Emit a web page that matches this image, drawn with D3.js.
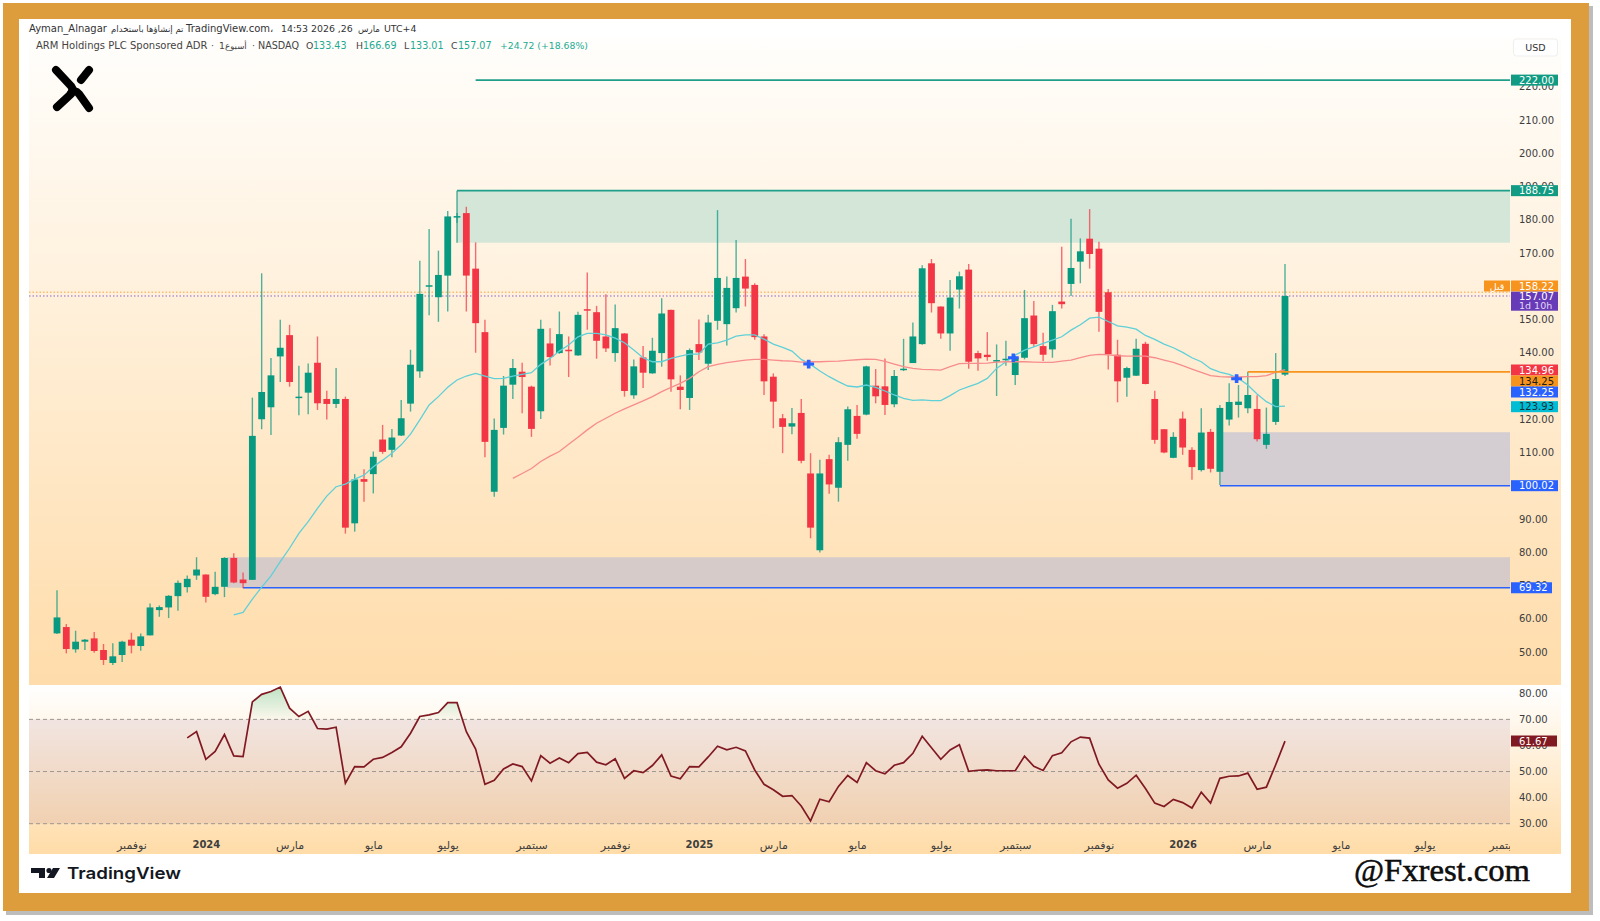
<!DOCTYPE html>
<html>
<head>
<meta charset="utf-8">
<script src="https://cdnjs.cloudflare.com/ajax/libs/d3/7.8.5/d3.min.js"></script>
<style>
  body { margin: 0; background: #fff; }
  text { font-family: "DejaVu Sans", sans-serif; }
</style>
</head>
<body>
<svg id="chart" width="1600" height="921"></svg>
<script>
// weekly candles
var opens = [55.6,57.5,50.8,53.1,54.1,50.6,46.7,49.1,53.7,51.8,55,62.6,63.4,66.8,69.5,73,73.3,67.4,69.6,78.3,71.8,71.7,120,123.6,138.9,145.3,126.5,128,137,126.1,124.6,126.1,88.7,102,103.5,113.9,110.8,115.1,124.7,134.4,160,156.7,163.2,180.8,182,165.3,146.2,98.2,117.4,130.4,134.3,129.8,122.4,142.8,139.9,140.9,139.2,153.1,152.2,144.9,139.9,145.8,127.2,138.6,133.8,139.9,152.9,129.8,126.4,142.6,136.7,149.6,148.6,153.4,162.9,160.4,144.9,132.8,120.3,117.8,121.9,103.7,80.6,108,99.4,112.3,121,121.4,130.1,129.9,124.5,134.8,136.9,142.6,166.9,153.9,145.8,159,165,139.9,139.4,137.5,138,133.3,138.5,151.2,142,141,155.4,160.7,167.4,174.3,171.3,158.2,139.4,132.5,133.1,142.7,126.1,117,108.4,120.2,110.8,104.7,116.2,104.2,119.9,124.3,123.3,123.1,112.3,119.2,133.43];
var highs = [68.6,58.4,56.4,53.9,56,52.4,52.6,53.4,55.8,55.6,64.6,64,67.1,71.5,73,78.5,73.3,74.1,78.5,79.7,73.9,126.5,163.9,138.4,149.9,148.4,136.1,136.8,144.9,128.6,135.4,126.8,103.5,105,110.3,118.3,117.1,125.8,140.9,167.7,177.2,170.7,182.6,182,183.9,173.2,149.9,120.2,133,138.1,137,130.1,149.9,147.4,152.4,144.9,152.3,164.1,154.1,157.6,154.5,145.9,138,142,144.5,156.4,152.9,133.2,141.3,150,151.4,182.9,162.9,173.9,168.2,160.9,145.6,133.8,121.6,123.4,126.1,109.8,107.8,109.3,114.6,123.8,124.3,136.1,135.1,138.3,134.8,144.2,149.1,166.3,168.2,153.9,161.9,164.4,166.7,140.6,146.2,142.5,143.6,139.4,158.9,155.6,146,154.4,171.9,180.3,174.4,183.2,173.4,159.2,143.9,135.8,144.2,143.3,128.6,117,116.1,122.3,111.6,123.3,117.1,124.3,130.8,130.3,134.3,127.2,123.5,139.9,166.69];
var lows = [55.4,49.6,49.8,50.6,49.8,46.1,46.1,47,49.6,50.4,55,60.6,60.2,62.4,67.9,71.7,64.9,67.1,66.5,70.7,69.2,71.7,117,115.3,131.2,129.8,121.2,121.5,122.8,119.9,123.4,85.6,86.2,95.2,97.7,109.6,108.6,115,122.3,132.5,151.3,149.3,152.4,179,152.4,140,108.6,96.7,115.4,126.1,121.8,114.7,120.1,136.2,139.7,132.7,139.1,146.9,138.2,140.2,137.3,126.8,126.2,129.4,133.7,135.8,128.3,123,122.8,137.8,134.8,146.9,142.2,152.1,153.9,143.9,127.3,117.3,109.8,115.5,106.8,84.2,79.9,97.6,95.2,107.5,114.1,121.2,124.8,121.3,123.6,134.5,136.9,142.4,152.1,144.2,140.6,153.3,135.2,134.6,137.6,127,136.1,130.3,138,141.8,137.5,138.5,153.3,157.1,160.9,165.3,146.3,135,125.1,126.8,133,130.5,112.6,109.8,108.3,109.3,101.8,104.3,104,100.2,118.1,120.5,121.8,113.3,111.1,118.3,133.01];
var closes = [60.4,50.9,53.1,53.7,50.3,47.6,48.7,53.1,51.9,54.7,63.4,63.5,66.9,70.8,72,74.8,66.6,69.6,78.3,70.9,70.7,115,128.2,133.2,141.5,131.2,126.8,134,124.8,124.6,126.1,87.4,101.9,101.2,108.7,110.2,114.5,120.3,136.4,157.7,160.3,163.4,181,181.1,163.2,148.9,113.2,116.8,130.1,135.4,132.7,117.1,147.2,138.7,145.6,140.5,151.4,152.8,143.6,141.3,147.4,128.5,135.9,134,140.6,151.8,132,128.8,140.8,140.1,149.1,162.5,159.5,162.5,159.3,144.7,131.4,125.3,117.7,118.8,107.5,87.4,103.7,100.4,113.1,123,115.6,135.9,126.9,124.3,133,135.2,144.9,165.4,154.9,145.8,156.6,163,137.3,138.3,138.7,137.8,138.2,138.3,150.4,142.6,139.4,152.5,154.6,165.5,170.5,169.7,152.3,139.6,131.4,135.4,141.2,130.6,113.8,110,114.7,111.5,105.6,116,105.1,123.4,125.2,125.3,127.3,114,115.6,132.1,157.07];

// moving averages, cyan starts at bar 19, red at bar 49
var cyanStart = 19;
var cyanMa = [61.2,61.9,65.9,69.5,72.9,77.2,81.2,85.7,89.2,93.2,96.9,99.7,100.5,102,103.2,105.7,107.7,109.8,112.3,115.5,119.8,124.3,126.8,129.6,131.8,133,133.8,133,132.2,132.3,133,133.5,134,136.5,138.3,140.5,142.3,144.8,145.8,145.8,145.4,144.4,143,140.8,138.5,137.3,137.3,138.3,139,139.6,139.6,142.6,143,143.8,145,145.4,145.4,144.1,142.6,141.6,140.5,138,136.5,134.5,132.8,131.3,130,129.7,130.3,129.6,128.5,127.3,126.3,125.7,125.8,125.6,125.6,127.1,128.8,129.8,130.8,132.3,135.3,137.3,139.3,140.8,141.8,142.8,143.8,144.8,146.8,148.4,150.4,150.7,149.4,148.1,147.7,147.1,145.2,144,142.6,141.5,140.1,138.5,137.3,135.2,134.2,133.5,132.3,130.3,127.6,125.3,123.8,123.93];
var redStart = 49;
var redMa = [102.2,103.7,105.2,107.3,108.9,110.3,112.5,114.6,116.8,118.8,120.3,121.8,123.1,124.3,125.5,126.8,128.3,129.6,130.8,132.3,134.3,135.8,136.5,137,137.4,137.8,138,138,137.8,137.6,137.5,137.2,137.3,137.3,137.4,137.5,137.7,137.9,138.1,138,137.4,136.6,135.8,135.3,135,134.9,134.8,135.8,136.7,136.8,136.8,136.9,137.2,137.3,137.3,137.3,137.2,137.1,137.1,137.5,137.8,138.5,139.2,139.5,139.4,139.1,139,139,139,138.5,137.8,137.1,136.1,135.1,134.1,133.1,132.8,132.7,132.7,132.8,132.8,133.1,134.1,134.96];

// RSI from bar 14
var rsiStart = 14;
var rsiValues = [62.9,65.3,54.7,57.7,64.2,56,55.7,76.7,79.6,80.7,82.4,74.3,71.1,73.1,66.5,66.3,67,45.5,51.9,51.8,54.7,55.4,57.3,59.5,64.7,71.1,71.7,72.6,76.4,76.4,65.3,58.6,45.1,46.6,51,52.9,51.9,46.4,56.1,53.2,55.2,53.4,56.9,57.3,53.6,52.6,54.9,47.4,50.3,49.6,52.3,56.4,48.3,47.2,51.9,51.8,55.6,59.7,58.3,59.3,57.9,50.6,45.1,43,40.5,40.8,36.8,31.1,39.4,38.4,44.3,48.5,45.8,53.4,50.3,49.1,52.4,53.4,57,63.5,59.1,54.7,58.3,60.3,50.1,50.5,50.6,50.3,50.3,50.3,55.9,52,50.4,56.1,57.2,61.4,63.2,62.8,52.8,46.8,43.6,45.5,48.6,43.5,37.9,36.6,39.3,38.1,36,42.1,37.9,47.4,48.2,48.3,49.4,43.2,44,52.6,61.67];

// axis ticks
var priceTicks = [50,60,70,80,90,100,110,120,130,140,150,160,170,180,190,200,210,220];
var rsiTicks = [30,40,50,60,70,80];
var timeTickBars = [8,16,25,34,42,51,60,69,77,86,95,103,112,121,129,138,147,155.6];
var timeTickLabels = ["نوفمبر","2024","مارس","مايو","يوليو","سبتمبر","نوفمبر","2025","مارس","مايو","يوليو","سبتمبر","نوفمبر","2026","مارس","مايو","يوليو","سبتمبر"];

// drawings: [bar, price]
var crossBars = [80.8,102.8,126.8];
var crossPrices = [136.6,138.5,132.2];

var paneLeft = 29, paneRight = 1561, plotRight = 1510;
var green = "#089981", red = "#f23645";

var svg = d3.select("#chart");
var defs = svg.append("defs");

var x = d3.scaleLinear().domain([0,132]).range([57,1285]);
var y = d3.scaleLinear().domain([50,220]).range([652,86.75]);
var yRsi = d3.scaleLinear().domain([30,80]).range([823.7,693.3]);

//Frame
svg.append("rect").attr("x",6).attr("y",6).attr("width",1587).attr("height",909).attr("fill","#bdbdbd");
svg.append("rect").attr("x",3).attr("y",3).attr("width",1586).attr("height",908).attr("fill","#de9d3c");
svg.append("rect").attr("x",19).attr("y",19).attr("width",1552).attr("height",874).attr("fill","#fff");

//Pane backgrounds
function addGradient(id, y1, y2, stops) {
  var g = defs.append("linearGradient").attr("id",id)
    .attr("gradientUnits","userSpaceOnUse")
    .attr("x1",0).attr("x2",0).attr("y1",y1).attr("y2",y2);
  stops.forEach(function(s) {
    g.append("stop").attr("offset",s[0]).attr("stop-color",s[1]).attr("stop-opacity",s[2]);
  });
}
addGradient("mainBg",37,685,[[0,"#fffefc",1],[1,"#ffdcaa",1]]);
addGradient("rsiBg",685,854,[[0,"#ffffff",1],[1,"#ffdca8",1]]);
addGradient("rsiFill",yRsi(82.4),yRsi(70),[[0,"#6cbf7c",0.45],[1,"#6cbf7c",0.02]]);

svg.append("rect").attr("x",paneLeft).attr("y",37).attr("width",paneRight-paneLeft).attr("height",648).attr("fill","url(#mainBg)");
svg.append("rect").attr("x",paneLeft).attr("y",685).attr("width",paneRight-paneLeft).attr("height",169).attr("fill","url(#rsiBg)");

//Zones
function zone(bar, top, bottom, color) {
  svg.append("rect")
    .attr("x",x(bar)).attr("width",plotRight-x(bar))
    .attr("y",y(top)).attr("height",y(bottom)-y(top))
    .attr("fill",color);
}
zone(43,188.75,173.1,"#d3e6d8");
zone(18.3,78.5,69.32,"#d6cbc9");
zone(125,116.1,100.02,"#d4ced2");

//Level lines
function level(bar, price, color, width) {
  svg.append("line")
    .attr("x1",x(bar)).attr("x2",plotRight)
    .attr("y1",y(price)).attr("y2",y(price))
    .attr("stroke",color).attr("stroke-width",width);
}
svg.append("line").attr("x1",x(43)).attr("x2",x(43)).attr("y1",y(188.75)).attr("y2",y(173.1))
  .attr("stroke","#3aa58f").attr("stroke-width",1.3);
level(20,69.32,"#2962ff",1.6);
level(125,100.02,"#2962ff",1.6);
svg.append("line").attr("x1",paneLeft).attr("x2",plotRight).attr("y1",y(158.22)).attr("y2",y(158.22))
  .attr("stroke","#f7a23b").attr("stroke-width",1).attr("stroke-dasharray","1.5 2");
svg.append("line").attr("x1",paneLeft).attr("x2",plotRight).attr("y1",y(157.07)).attr("y2",y(157.07))
  .attr("stroke","#8e63c9").attr("stroke-width",1).attr("stroke-dasharray","1.5 2");

//Candles
var bars = d3.range(opens.length);
var candle = svg.append("g").selectAll("g").data(bars).enter().append("g");
candle.append("line")
  .attr("x1",function(i){ return x(i); }).attr("x2",function(i){ return x(i); })
  .attr("y1",function(i){ return y(highs[i]); }).attr("y2",function(i){ return y(lows[i]); })
  .attr("stroke",function(i){ return closes[i] >= opens[i] ? green : red; })
  .attr("stroke-opacity",0.72).attr("stroke-width",1.4);
candle.append("rect")
  .attr("x",function(i){ return x(i)-3.4; }).attr("width",6.8)
  .attr("y",function(i){ return y(Math.max(opens[i],closes[i])); })
  .attr("height",function(i){ return Math.max(1.5, Math.abs(y(opens[i])-y(closes[i]))); })
  .attr("fill",function(i){ return closes[i] >= opens[i] ? green : red; });

//Moving averages
var cyanLine = d3.line().x(function(d,i){ return x(i+cyanStart); }).y(function(d){ return y(d); });
var redLine = d3.line().x(function(d,i){ return x(i+redStart); }).y(function(d){ return y(d); });
svg.append("path").attr("d",cyanLine(cyanMa)).attr("fill","none").attr("stroke","#5fd0d8").attr("stroke-width",1.3);
svg.append("path").attr("d",redLine(redMa)).attr("fill","none").attr("stroke","#f78c8c").attr("stroke-width",1.3);

//Lines on top of the candles
level(45,222,"#1f9e8a",1.8);
level(43,188.75,"#1f9e8a",1.8);
level(128,134.25,"#f7941d",1.6);

//Crossing marks
svg.append("g").selectAll("path").data(crossBars).enter().append("path")
  .attr("d",d3.symbol().type(d3.symbolCross).size(42))
  .attr("transform",function(d,i){ return "translate("+x(d)+","+y(crossPrices[i])+") scale(1.25,1)"; })
  .attr("fill","#2962ff");

//RSI pane
svg.append("rect").attr("x",paneLeft).attr("y",yRsi(70)).attr("width",plotRight-paneLeft).attr("height",yRsi(30)-yRsi(70))
  .attr("fill","rgb(120,60,120)").attr("fill-opacity",0.1);
[70,50,30].forEach(function(v) {
  svg.append("line").attr("x1",paneLeft).attr("x2",plotRight).attr("y1",yRsi(v)).attr("y2",yRsi(v))
    .attr("stroke","#9c9791").attr("stroke-width",1).attr("stroke-dasharray","4 3");
});
defs.append("clipPath").attr("id","above70").append("rect")
  .attr("x",paneLeft).attr("y",685).attr("width",plotRight-paneLeft).attr("height",yRsi(70)-685);
var rsiArea = d3.area().x(function(d,i){ return x(i+rsiStart); }).y0(yRsi(70)).y1(function(d){ return yRsi(d); });
svg.append("path").attr("d",rsiArea(rsiValues)).attr("fill","url(#rsiFill)").attr("clip-path","url(#above70)");
var rsiLine = d3.line().x(function(d,i){ return x(i+rsiStart); }).y(function(d){ return yRsi(d); });
svg.append("path").attr("d",rsiLine(rsiValues)).attr("fill","none").attr("stroke","#801922").attr("stroke-width",1.7);

//Axes
var priceAxis = svg.append("g").attr("transform","translate("+plotRight+",0)")
  .call(d3.axisRight(y).tickValues(priceTicks).tickSize(0).tickPadding(9).tickFormat(d3.format(".2f")));
var rsiAxis = svg.append("g").attr("transform","translate("+plotRight+",0)")
  .call(d3.axisRight(yRsi).tickValues(rsiTicks).tickSize(0).tickPadding(9).tickFormat(d3.format(".2f")));
defs.append("clipPath").attr("id","timeClip").append("rect")
  .attr("x",paneLeft).attr("y",830).attr("width",plotRight-paneLeft).attr("height",30);
// the clip sits on an outer group, the axis group is translated
var timeAxis = svg.append("g").attr("clip-path","url(#timeClip)").append("g").attr("transform","translate(0,835)")
  .call(d3.axisBottom(x).tickValues(timeTickBars).tickSize(0).tickPadding(6)
    .tickFormat(function(d,i){ return timeTickLabels[i]; }));
[priceAxis,rsiAxis,timeAxis].forEach(function(a) {
  a.select(".domain").remove();
  a.selectAll("text").attr("font-size",10).attr("font-family","DejaVu Sans").attr("fill","#3d3d3d");
});
timeAxis.selectAll("text")
  .attr("font-size",function(d,i){ return /^\d+$/.test(timeTickLabels[i]) ? 10 : 11; })
  .attr("font-weight",function(d,i){ return /^\d+$/.test(timeTickLabels[i]) ? "bold" : "normal"; });

//Value tags on the price scale
function tag(cy, h, width, label, bg, fg) {
  svg.append("rect").attr("x",plotRight+1).attr("y",cy-h/2).attr("width",width).attr("height",h).attr("fill",bg);
  svg.append("text").attr("x",plotRight+9).attr("y",cy+3.6).attr("font-size",10).attr("fill",fg).text(label);
}
tag(y(222),11,47,"222.00","#119b83","#fff");
tag(y(188.75),11,47,"188.75","#119b83","#fff");
tag(286,11,47,"158.22","#f7941d","#fff");
svg.append("rect").attr("x",1484).attr("y",280.5).attr("width",26).attr("height",11).attr("fill","#f7941d");
svg.append("text").attr("x",1497).attr("y",289.5).attr("text-anchor","middle").attr("font-size",9.5).attr("fill","#fff").text("قبل");
svg.append("rect").attr("x",plotRight+1).attr("y",291.7).attr("width",47).attr("height",19).attr("fill","#673ab7");
svg.append("text").attr("x",plotRight+9).attr("y",300).attr("font-size",10).attr("fill","#fff").text("157.07");
svg.append("text").attr("x",plotRight+9).attr("y",309).attr("font-size",9.5).attr("fill","#e3d7f5").text("1d 10h");
tag(370,11,47,"134.96","#f23645","#fff");
tag(381,11,47,"134.25","#f7941d","#1c1c1c");
tag(392,11,47,"132.25","#2962ff","#fff");
tag(406.7,11,47,"123.93","#00bcd4","#14323a");
tag(y(100.02),11,47,"100.02","#2962ff","#fff");
tag(y(69.32),11,41,"69.32","#2962ff","#fff");
tag(741,11,46,"61.67","#801922","#fff");

//USD button
svg.append("rect").attr("x",1513.5).attr("y",39).attr("width",44).attr("height",17).attr("rx",3)
  .attr("fill","#fff").attr("stroke","#efefef");
svg.append("text").attr("x",1535.5).attr("y",51).attr("text-anchor","middle").attr("font-size",9.5).attr("fill","#333").text("USD");

//Header, one string per direction run so the order stays like the picture
function note(xPos, yPos, label, size, color) {
  return svg.append("text").attr("x",xPos).attr("y",yPos).attr("font-size",size).attr("fill",color).text(label);
}
note(29,32,"Ayman_Alnagar",10,"#333");
note(111,32,"تم إنشاؤها باستخدام",8.6,"#333");
note(186,32,"TradingView.com،",10,"#333");
note(281,32,"14:53 2026 ,26",9.4,"#333");
note(358,32,"مارس",8.6,"#333");
note(384,32,"UTC+4",9.4,"#333");

note(36,49,"ARM Holdings PLC Sponsored ADR",10,"#444");
note(211,49,"·",9.3,"#444");
note(219,49,"1",9.3,"#444");
note(225,49,"أسبوع",8.6,"#444");
note(252,49,"·",9.3,"#444");
note(258,49,"NASDAQ",9.6,"#444");
var legendGreen = "#22ab94";
note(306,49,"O",9.3,"#444");
note(313,49,"133.43",9.6,legendGreen);
note(356,49,"H",9.3,"#444");
note(363,49,"166.69",9.6,legendGreen);
note(404,49,"L",9.3,"#444");
note(410,49,"133.01",9.6,legendGreen);
note(451,49,"C",9.3,"#444");
note(458,49,"157.07",9.6,legendGreen);
note(500,49,"+24.72 (+18.68%)",9.3,legendGreen);

//Logo in the corner
var logo = svg.append("g").attr("fill","none").attr("stroke","#000").attr("stroke-width",8).attr("stroke-linecap","round");
logo.append("path").attr("d","M56 70 L71 86 Q74 90 71 94 L57 107");
logo.append("path").attr("d","M89 70 L81 80");
logo.append("path").attr("d","M71 93 Q75 89 79 94 L89 108");

//TradingView mark
svg.append("path").attr("fill","#131722").attr("d","M31 868 H45 V878 H39 V873 H31 Z M53 868 H60 L54 878 H47 Z");
svg.append("circle").attr("cx",49).attr("cy",870.5).attr("r",2.6).attr("fill","#131722");
svg.append("text").attr("x",67).attr("y",878.5).attr("font-weight",600)
  .attr("font-size",16.5).attr("fill","#131722").style("font-family","Inter")
  .attr("textLength",114).attr("lengthAdjust","spacingAndGlyphs").text("TradingView");

//Watermark
svg.append("text").attr("x",1354).attr("y",881).style("font-family","'Liberation Serif'")
  .attr("font-size",31).attr("fill","#111").attr("stroke","#000").attr("stroke-width",0.5)
  .attr("textLength",176).attr("lengthAdjust","spacingAndGlyphs").text("@Fxrest.com");
</script>
</body>
</html>
